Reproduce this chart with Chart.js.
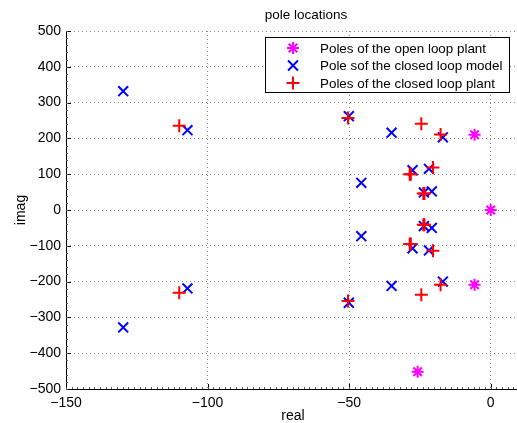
<!DOCTYPE html>
<html>
<head>
<meta charset="utf-8">
<script src="https://cdn.jsdelivr.net/npm/chart.js@4.4.1/dist/chart.umd.min.js"></script>
<style>
  html, body { margin: 0; padding: 0; background: #fff; overflow: hidden; }
  #wrap { width: 530px; height: 423px; position: relative; }
</style>
</head>
<body>
<div id="wrap"><canvas id="poleChart"></canvas></div>
<script>
    // 데이터
    const seriesNames = ['Poles of the open loop plant', 'Pole sof the closed loop model', 'Poles of the closed loop plant'];

    const openReal = [-5.7, 0, -5.7, -25.8];
    const openImag = [210, 0, -209, -452];

    const modelReal = [-129.8, -129.8, -107.1, -107.1, -50.1, -50.1, -35, -35, -16.9, -16.9,
                       -45.7, -45.7, -27.6, -27.6, -21.8, -21.8, -23.6, -23.6, -20.8, -20.8];
    const modelImag = [332, -328, 223, -219, 262, -259, 216, -212, 203, -200,
                       76, -73, 111, -107, 115, -113, 49, -45, 52, -50];

    const plantReal = [-110, -110, -50.4, -50.4, -24.5, -24.5, -17.7, -17.7, -20.4, -20.4,
                       -28.6, -28.6, -28.2, -28.2, -23.8, -23.8, -23.4, -23.4];
    const plantImag = [235, -231, 257, -254, 241, -237, 211, -209, 119, -114,
                       100, -95, 100, -95, 46, -41, 46, -41];

    const xTicks = [-150, -100, -50, 0];
    const yTicks = [-500, -400, -300, -200, -100, 0, 100, 200, 300, 400, 500];

    const toPoints = (xs, ys) => xs.map((x, i) => ({ x: x, y: ys[i] }));
    const fmt = v => (v < 0 ? '\u2212' + Math.abs(v) : String(v));
    const FONT = '"Liberation Sans", Arial, sans-serif';

    // 범례 모양
    const legendStyles = [
        { style: 'star', color: '#ff00ff', r: 6 },
        { style: 'crossRot', color: '#0000ff', r: 7 },
        { style: 'cross', color: '#ff0000', r: 6.5 }
    ];

    // 축, 눈금, 제목, 범례 그리기
    const decorPlugin = {
        id: 'decor',
        afterDraw(chart) {
            const ctx = chart.ctx;
            const a = chart.chartArea;
            const xs = chart.scales.x, ys = chart.scales.y;
            ctx.save();
            ctx.strokeStyle = '#000';
            ctx.lineWidth = 1;
            ctx.beginPath();
            ctx.moveTo(a.left + 0.5, a.top);
            ctx.lineTo(a.left + 0.5, a.bottom + 0.5);
            ctx.lineTo(a.right, a.bottom + 0.5);
            ctx.stroke();

            // 주 눈금
            ctx.beginPath();
            xTicks.forEach(v => {
                const px = Math.round(xs.getPixelForValue(v)) + 0.5;
                ctx.moveTo(px, a.bottom); ctx.lineTo(px, a.bottom - 5);
            });
            yTicks.forEach(v => {
                const py = Math.round(ys.getPixelForValue(v)) + 0.5;
                ctx.moveTo(a.left, py); ctx.lineTo(a.left + 5, py);
            });
            ctx.stroke();

            // 보조 눈금
            ctx.strokeStyle = '#555';
            ctx.beginPath();
            for (let v = -150; v <= 10; v += 2) {
                const px = Math.round(xs.getPixelForValue(v)) + 0.5;
                ctx.moveTo(px, a.bottom); ctx.lineTo(px, a.bottom - 2);
            }
            for (let v = -500; v <= 500; v += 20) {
                const py = Math.round(ys.getPixelForValue(v)) + 0.5;
                ctx.moveTo(a.left, py); ctx.lineTo(a.left + 2, py);
            }
            ctx.stroke();

            // 제목과 축 이름
            ctx.fillStyle = '#000';
            ctx.font = '13.5px ' + FONT;
            ctx.textAlign = 'center';
            ctx.textBaseline = 'middle';
            ctx.fillText('pole locations', 306, 15);
            ctx.font = '14px ' + FONT;
            ctx.fillText('real', 293, 416);
            ctx.save();
            ctx.translate(21, 210);
            ctx.rotate(-Math.PI / 2);
            ctx.fillText('imag', 0, 0);
            ctx.restore();

            // 범례 상자
            ctx.fillStyle = '#fff';
            ctx.fillRect(265, 37, 244, 55);
            ctx.strokeStyle = '#000';
            ctx.lineWidth = 1;
            ctx.strokeRect(265.5, 37.5, 244, 55);
            const rows = [48, 65.5, 83];
            seriesNames.forEach((name, i) => {
                const st = legendStyles[i];
                ctx.strokeStyle = st.color;
                ctx.lineWidth = 2;
                Chart.helpers.drawPoint(ctx, { pointStyle: st.style, radius: st.r, borderWidth: 2 }, 293, rows[i]);
                ctx.fillStyle = '#000';
                ctx.font = '13.4px ' + FONT;
                ctx.textAlign = 'left';
                ctx.fillText(name, 320, rows[i] + 1);
            });
            ctx.restore();
        }
    };

    function renderChart() {
        new Chart(document.getElementById('poleChart'), {
            type: 'scatter',
            data: {
                datasets: [
                    { label: seriesNames[0], data: toPoints(openReal, openImag), pointStyle: 'star',
                      radius: 6, borderColor: '#ff00ff', backgroundColor: '#ff00ff', borderWidth: 2, order: 3 },
                    { label: seriesNames[1], data: toPoints(modelReal, modelImag), pointStyle: 'crossRot',
                      radius: 7, borderColor: '#0000ff', backgroundColor: '#0000ff', borderWidth: 2, order: 2 },
                    { label: seriesNames[2], data: toPoints(plantReal, plantImag), pointStyle: 'cross',
                      radius: 6.5, borderColor: '#ff0000', backgroundColor: '#ff0000', borderWidth: 2, order: 1 }
                ]
            },
            options: {
                responsive: true,
                maintainAspectRatio: false,
                animation: false,
                events: [],
                layout: { padding: { top: 31, right: 11, left: 0, bottom: 0 } },
                plugins: {
                    legend: { display: false },
                    tooltip: { enabled: false },
                    title: { display: false }
                },
                elements: { point: { hoverRadius: 7 } },
                scales: {
                    x: {
                        type: 'linear',
                        min: -150, max: 10,
                        afterBuildTicks: s => { s.ticks = xTicks.map(v => ({ value: v })); },
                        afterFit: s => { s.height = 34; },
                        ticks: { padding: 6, color: '#000', font: { family: FONT, size: 14 }, callback: v => fmt(v), maxRotation: 0 },
                        grid: { drawTicks: false, color: '#888', lineWidth: 1 },
                        border: { display: false, dash: [1, 3] }
                    },
                    y: {
                        type: 'linear',
                        min: -500, max: 500,
                        afterBuildTicks: s => { s.ticks = yTicks.map(v => ({ value: v })); },
                        afterFit: s => { s.width = 66; },
                        ticks: { padding: 5, color: '#000', font: { family: FONT, size: 14 }, callback: v => fmt(v) },
                        grid: { drawTicks: false, color: '#888', lineWidth: 1 },
                        border: { display: false, dash: [1, 3] }
                    }
                }
            },
            plugins: [decorPlugin]
        });
    }

    window.onload = function() {
        renderChart();
    };
</script>
</body>
</html>
